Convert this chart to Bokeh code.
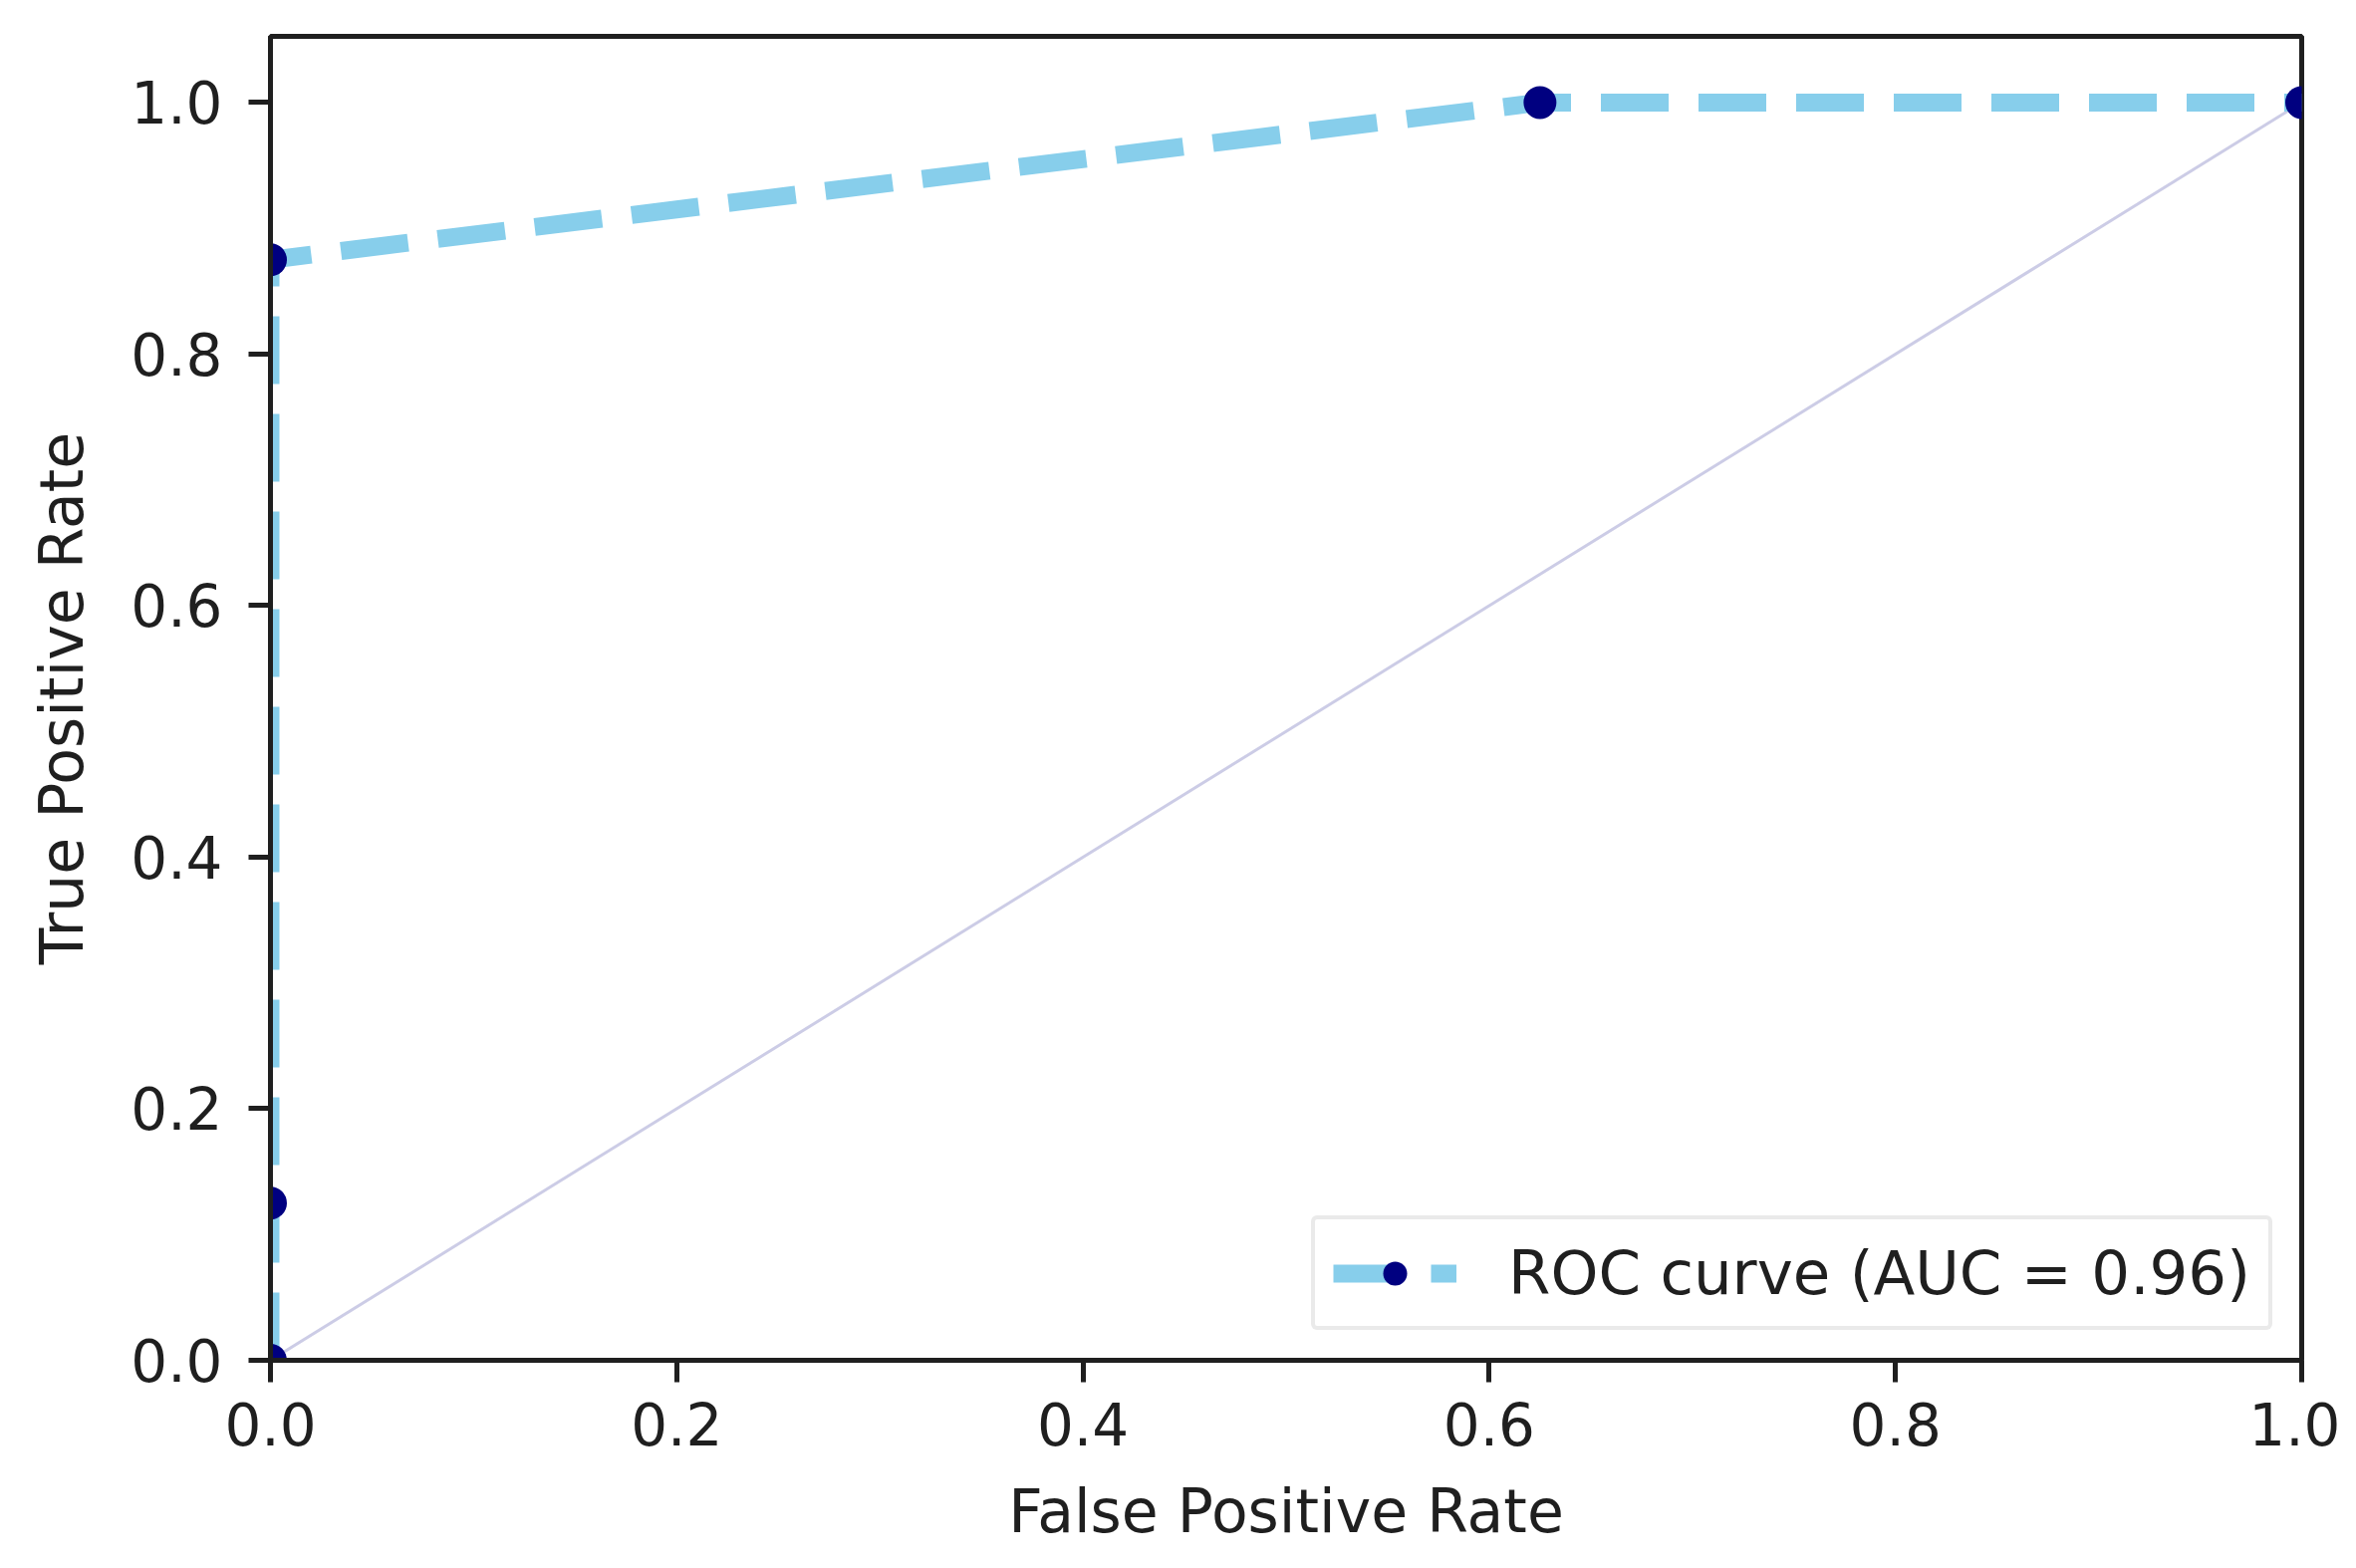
from bokeh.plotting import figure
from bokeh.models import Range1d, FixedTicker, Legend, LegendItem
from bokeh.embed import file_html
from bokeh.resources import INLINE

# ---- data ----
fpr = [0.0, 0.0, 0.0, 0.625, 1.0]
tpr = [0.0, 0.125, 0.875, 1.0, 1.0]
diag_x = [0.0, 1.0]
diag_y = [0.0, 1.0]
auc_value = 0.96
tick_values = [0.0, 0.2, 0.4, 0.6, 0.8, 1.0]
tick_labels = ["0.0", "0.2", "0.4", "0.6", "0.8", "1.0"]
x_label = "False Positive Rate"
y_label = "True Positive Rate"
legend_label = "ROC curve (AUC = %.2f)" % auc_value

FONT = "DejaVu Sans"
INK = "#1f1f1f"

p = figure(width=2349, height=1558, output_backend="svg", toolbar_location=None,
           x_range=Range1d(0, 1.0), y_range=Range1d(0, 1.0526),
           min_border_left=271, min_border_right=39, min_border_top=36, min_border_bottom=193)
p.grid.visible = False
p.background_fill_color = "white"
p.border_fill_color = "white"
p.outline_line_color = INK
p.outline_line_width = 5

overrides = {v: s for v, s in zip(tick_values, tick_labels)}
for ax in (p.xaxis[0], p.yaxis[0]):
    ax.ticker = FixedTicker(ticks=tick_values)
    ax.major_label_overrides = overrides
    ax.minor_tick_line_color = None
    ax.major_tick_in = 0
    ax.major_tick_out = 22
    ax.major_tick_line_width = 5
    ax.major_tick_line_color = INK
    ax.axis_line_width = 5
    ax.axis_line_color = INK
    ax.major_label_text_font = FONT
    ax.major_label_text_font_size = "58px"
    ax.major_label_text_color = INK
    ax.axis_label_text_font = FONT
    ax.axis_label_text_font_size = "60px"
    ax.axis_label_text_font_style = "normal"
    ax.axis_label_text_color = INK

p.xaxis.axis_label = x_label
p.yaxis.axis_label = y_label
p.xaxis.major_label_standoff = 20
p.yaxis.major_label_standoff = 26
p.xaxis.axis_label_standoff = 28
p.yaxis.axis_label_standoff = 31

# diagonal reference
p.line(diag_x, diag_y, line_color="navy", line_alpha=0.2, line_width=3)

# ROC curve
roc_line = p.line(fpr, tpr, line_color="#87CEEB", line_width=18, line_dash="68 30")
roc_pts = p.scatter(fpr, tpr, marker="circle", size=33, fill_color="navy", line_color=None)

legend = Legend(items=[LegendItem(label=legend_label, renderers=[roc_line, roc_pts])],
                location=(1045, 30))
legend.label_text_font = FONT
legend.label_text_font_size = "61px"
legend.label_text_color = INK
legend.glyph_width = 124
legend.glyph_height = 60
legend.label_standoff = 52
legend.padding = 18
legend.margin = 0
legend.border_line_color = "#d6d6d6"
legend.border_line_width = 4
legend.border_radius = 6
legend.background_fill_alpha = 0.85
p.add_layout(legend, "center")

open("out.html", "w").write(file_html(p, INLINE))
